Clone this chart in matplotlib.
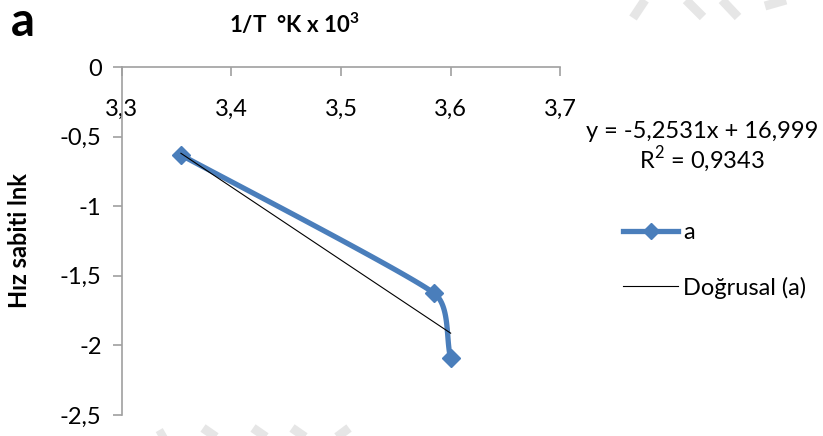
import numpy as np
import matplotlib.pyplot as plt
from matplotlib.lines import Line2D

plt.rcParams['font.family'] = ['Lato', 'DejaVu Sans']
plt.rcParams['mathtext.fontset'] = 'custom'
plt.rcParams['mathtext.rm'] = 'Lato'
plt.rcParams['mathtext.bf'] = 'Lato:bold'

# olcum noktalari: 1/T (x1000) ve ln k
inv_temp = [3.354, 3.585, 3.600]
ln_k = [-0.632, -1.626, -2.093]

x_ticks = [3.3, 3.4, 3.5, 3.6, 3.7]
y_ticks = [0, -0.5, -1, -1.5, -2, -2.5]

# dogrusal egilim cizgisi
slope = -5.2531
intercept = 16.999
r_squared = 0.9343

W, H = 823, 436
blue = '#4a7ebb'
gray = '#a0a0a0'
fs = 17


def virgul(v, fmt='{:g}'):
    return fmt.format(v).replace('.', ',')


def px(x, y):
    return x / W, 1 - y / H


def yumusak(ax, xs, ys, oran=0.3, sinir=35, n=60):
    # excel tarzi yumusatilmis cizgi, ekran koordinatlarinda bezier
    pts = ax.transData.transform(np.column_stack([xs, ys]))
    parcalar = []
    for i in range(len(pts) - 1):
        p0, p1 = pts[i], pts[i + 1]
        boy = np.hypot(*(p1 - p0))
        d = min(oran * boy, sinir)
        onceki = pts[i - 1] if i > 0 else p0
        sonraki = pts[i + 2] if i + 2 < len(pts) else p1
        t0 = p1 - onceki
        t0 = t0 / np.hypot(*t0)
        t1 = sonraki - p0
        t1 = t1 / np.hypot(*t1)
        c0 = p0 + t0 * d
        c1 = p1 - t1 * d
        s = np.linspace(0, 1, n)[:, None]
        b = (1 - s)**3 * p0 + 3 * (1 - s)**2 * s * c0 + 3 * (1 - s) * s**2 * c1 + s**3 * p1
        parcalar.append(b if i == 0 else b[1:])
    yol = ax.transData.inverted().transform(np.vstack(parcalar))
    return yol[:, 0], yol[:, 1]


fig = plt.figure(figsize=(W / 100, H / 100), dpi=100)
ax = fig.add_axes([121.7 / W, 1 - 415 / H, (560.3 - 121.7) / W, (415 - 67) / H])

ax.set_xlim(3.3, 3.7)
ax.set_ylim(-2.5, 0)

for s in ['right', 'bottom']:
    ax.spines[s].set_visible(False)
for s in ['left', 'top']:
    ax.spines[s].set_color(gray)
    ax.spines[s].set_linewidth(1.2)

ax.xaxis.tick_top()
ax.set_xticks(x_ticks)
ax.set_xticklabels([virgul(v) for v in x_ticks])
ax.set_yticks(y_ticks)
ax.set_yticklabels([virgul(v) for v in y_ticks])
ax.tick_params(axis='x', direction='in', length=6.5, width=1.2, color=gray,
               labelsize=fs, pad=-38)
ax.tick_params(axis='y', direction='out', length=6.5, width=1.2, color=gray,
               labelsize=fs, pad=8)

# seri a
cx, cy = yumusak(ax, inv_temp, ln_k)
ax.plot(cx, cy, color=blue, lw=3.8, solid_capstyle='round', zorder=3, clip_on=False)
ax.plot(inv_temp, ln_k, ls='none', marker='D', ms=9.5, color=blue, zorder=4, clip_on=False)

# egilim cizgisi
tx = np.array([min(inv_temp), max(inv_temp)])
ax.plot(tx, slope * tx + intercept, color='black', lw=0.8, zorder=5)

handles = [
    Line2D([], [], color=blue, lw=3.8, marker='D', ms=8),
    Line2D([], [], color='black', lw=0.8),
]
ax.legend(handles, ['a', 'Doğrusal (a)'], loc='upper left',
          bbox_to_anchor=px(623, 222), bbox_transform=fig.transFigure,
          frameon=False, fontsize=fs, handlelength=2.33, handletextpad=0.21,
          labelspacing=1.42, borderpad=0, borderaxespad=0)

fig.text(*px(702, 132), f'y = {virgul(slope, "{:.4f}")}x + {virgul(intercept, "{:.3f}")}',
         ha='center', va='center', fontsize=fs)
fig.text(*px(702, 160), f'R$^2$ = {virgul(r_squared, "{:.4f}")}',
         ha='center', va='center', fontsize=fs)

fig.text(*px(294, 24), r'1/T  °K x 10$^\mathbf{3}$', ha='center', va='center',
         fontsize=16, fontweight='bold')
fig.text(*px(20, 241), 'Hız sabiti lnk', ha='center', va='center',
         rotation=90, fontsize=17, fontweight='bold')
fig.text(*px(11, 22), 'a', ha='left', va='center', fontsize=34, fontweight='bold')

# soluk kesikli filigran
filigran = [
    ((633, 18), (645, 0)),
    ((686, 0), (703, 17)),
    ((722, 0), (738, 17)),
    ((765, 6), (786, 0)),
    ((158, 436), (165, 432)),
    ((203, 428), (216, 437)),
    ((253, 428), (266, 437)),
    ((292, 428), (305, 437)),
    ((337, 437), (349, 428)),
]
for (x0, y0), (x1, y1) in filigran:
    a, b = px(x0, y0), px(x1, y1)
    fig.add_artist(Line2D([a[0], b[0]], [a[1], b[1]], transform=fig.transFigure,
                          color='#e6e6e6', lw=6.5, solid_capstyle='butt', zorder=0))

fig.savefig('out.png', dpi=100)
